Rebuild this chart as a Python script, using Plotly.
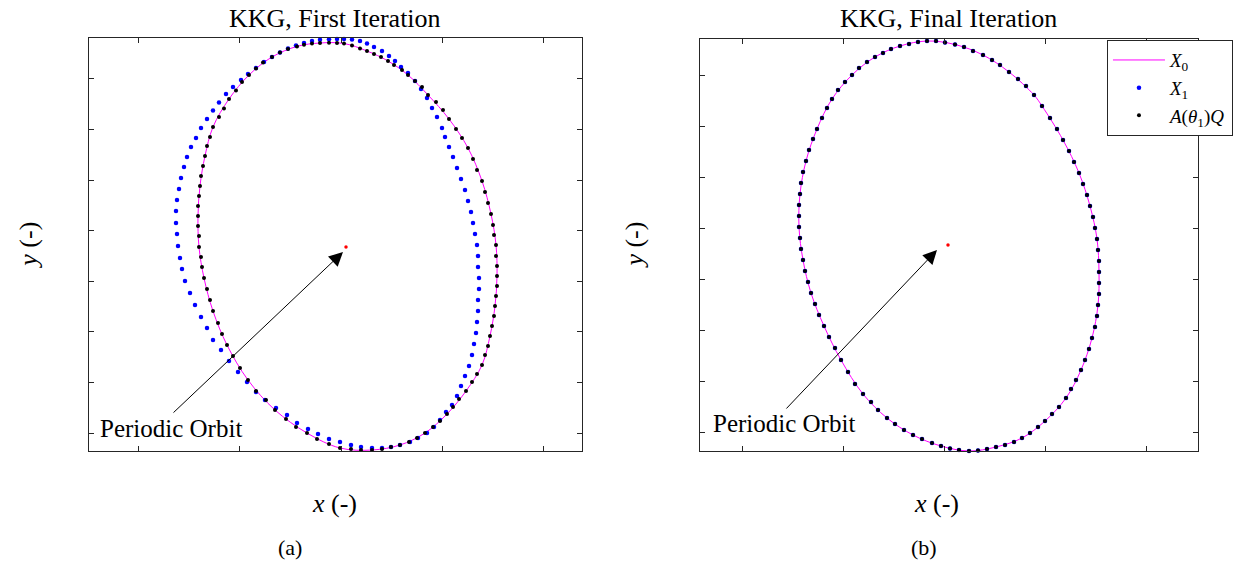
import plotly.graph_objects as go

# ---------------- panel (a): first iteration ----------------
# A(theta_1)Q samples
aq_a_x = [-2, -9, -17, -26, -34, -42, -49, -58, -66, -74, -83, -90, -97, -104, -110, -117, -122, -127,
          -133, -136, -139, -141, -143, -145, -146, -147, -148, -148, -148, -147, -147, -145, -144, -142,
          -139, -136, -133, -128, -124, -119, -113, -106, -98, -90, -80, -71, -60, -50, -39, -29, -17, -6,
          5, 15, 26, 36, 45, 54, 63, 71, 79, 87, 94, 101, 107, 113, 120, 126, 131, 136, 139, 142, 144,
          146, 148, 149, 150, 151, 151, 151, 150, 150, 148, 147, 145, 142, 139, 136, 131, 127, 122, 116,
          110, 103, 97, 90, 82, 76, 69, 62, 56, 48, 42, 35, 28, 21, 14, 6]
aq_a_y = [203.5, 204, 204.3, 204, 203.4, 202.3, 200.6, 198, 194.5, 190, 184.5, 178.5, 172, 165, 156.5, 148,
          138.5, 130, 120, 110, 101, 91, 81, 71, 61, 51, 41, 31, 21, 11, 0, -10, -20, -31, -42, -53, -64,
          -76, -87, -98, -109, -121, -133, -144, -153, -163, -172, -180, -186, -192, -197, -201, -202,
          -203, -203, -202, -200, -198, -195, -191, -186, -180, -174, -167, -160, -152, -144, -135, -127,
          -118, -108, -99, -89, -79, -69, -59, -49, -39, -29, -19, -9, 2, 12, 22, 33, 44, 55, 66, 77, 88,
          99, 109, 118, 128, 137, 145, 152, 160, 166, 172, 177, 182, 186, 190, 193, 196, 198.5, 201.5]

# X_1 samples (first Newton update)
x1_a_x = [14, 6, -2, -9, -17, -26, -34, -42, -50, -58, -66, -74, -82, -90, -98, -105, -113, -120, -127,
          -133, -139, -145, -150, -155, -159, -162, -165, -167, -169, -170, -170, -169, -168, -166, -164,
          -161, -156, -151, -145, -139, -133, -125, -117, -108, -99, -90, -81, -70, -59, -49, -38, -28,
          -17, -6, 5, 15, 26, 36, 45, 54, 64, 72, 81, 88, 94, 100, 106, 111, 115, 119, 123, 126, 128,
          130, 131, 132, 132, 133, 133, 132, 132, 131, 129, 127, 125, 122, 119, 115, 111, 107, 103, 99,
          96, 91, 86, 81, 75, 69, 62, 55, 49, 43, 36, 28, 21]
x1_a_y = [206, 207.5, 208, 208, 207.8, 207.2, 206, 204, 201.5, 198.5, 194.5, 190, 185, 179, 173, 167, 160,
          153, 144.5, 136.5, 128, 119, 109, 100, 90, 80, 69, 58, 47, 36, 24, 13, 1, -11, -22, -34, -46,
          -58, -70, -81, -93, -103, -114, -125, -135, -145, -153, -161, -168, -176, -182, -187, -192, -195,
          -198, -200, -201, -201, -200, -198, -195, -191, -186, -180, -173, -165, -158, -149, -139, -129,
          -119, -108, -97, -86, -75, -64, -53, -42, -31, -20, -9, 2, 13, 24, 35, 46, 57, 68, 79, 90, 100,
          110, 119, 130, 139, 149, 158, 166, 174, 180, 186, 191, 196, 200, 203.5]

# X_0 reference orbit
x0_a_x = [-2, -26, -49, -74, -97, -117, -133, -141, -146, -148, -147, -142, -133, -119, -98, -71, -39, -6,
          26, 54, 79, 101, 120, 136, 144, 149, 151, 150, 145, 136, 122, 103, 82, 62, 42, 21]
x0_a_y = [203.5, 204, 200.6, 190, 172, 148, 120, 91, 61, 31, 0, -31, -64, -98, -133, -163, -186, -201,
          -203, -198, -186, -167, -144, -118, -89, -59, -29, 2, 33, 66, 99, 128, 152, 172, 186, 196]

# ---------------- panel (b): final iteration ----------------
aq_b_x = [86, 78, 70, 61, 52, 44, 35, 25, 16, 7, -3, -12, -21, -30, -39, -48, -57, -65, -73, -81, -89,
          -96, -103, -110, -116, -121, -126, -131, -135, -139, -142, -145, -147, -148, -149, -149, -149,
          -148, -147, -145, -143, -140, -137, -133, -129, -124, -119, -113, -107, -100, -93, -85, -77,
          -70, -61, -53, -44, -35, -26, -16, -7, 2, 11, 21, 30, 39, 48, 57, 66, 74, 82, 90, 97, 104, 111,
          118, 123, 128, 133, 137, 141, 144, 147, 149, 150, 151, 151, 151, 151, 150, 149, 147, 145, 142,
          139, 135, 131, 126, 121, 115, 109, 102, 94]
aq_b_y = [150, 159, 166, 173, 180, 185, 190, 194, 198, 200.5, 202.5, 204, 204, 203, 201, 199, 196, 192,
          188, 183, 177, 170, 163, 155, 146, 137, 127, 116, 106, 95, 84, 73, 62, 51, 40, 29, 18, 7, -4,
          -15, -26, -37, -48, -59, -70, -81, -92, -103, -115, -127, -139, -149, -157, -165, -173, -179,
          -185, -190, -194, -198, -201, -203.5, -205, -206, -205.5, -204, -202, -200, -197, -193, -188,
          -182, -176, -169, -162, -153, -144, -135, -125, -115, -104, -93, -82, -71, -60, -49, -38, -27,
          -16, -5, 6, 17, 28, 39, 50, 61, 72, 83, 94, 105, 116, 127, 139]

# converged: the final X_1 coincides with A(theta_1)Q
x1_b_x = aq_b_x
x1_b_y = aq_b_y

x0_b_x = [86, 61, 35, 7, -21, -48, -73, -96, -116, -131, -142, -148, -149, -145, -137, -124, -107, -85,
          -61, -35, -7, 21, 48, 74, 97, 118, 133, 144, 150, 151, 149, 142, 131, 115, 94]
x0_b_y = [150, 173, 190, 200.5, 204, 199, 188, 170, 146, 116, 84, 51, 18, -15, -48, -81, -115, -149,
          -173, -190, -201, -206, -202, -193, -176, -153, -125, -93, -60, -27, 6, 39, 72, 105, 139]

# fixed point of the map
fixed_pt = (0, 0)

MAGENTA = "#ff00ff"
BLUE = "#0000ff"
AX_COL = "#262626"
SERIF = "Liberation Serif, Times New Roman, serif"


def closed(v):
    return list(v) + [v[0]]


fig = go.Figure()

panels = [
    ("x", "y", x0_a_x, x0_a_y, x1_a_x, x1_a_y, aq_a_x, aq_a_y, False),
    ("x2", "y2", x0_b_x, x0_b_y, x1_b_x, x1_b_y, aq_b_x, aq_b_y, True),
]
for xa, ya, x0x, x0y, x1x, x1y, aqx, aqy, leg in panels:
    fig.add_trace(go.Scatter(
        x=closed(x0x), y=closed(x0y), mode="lines", xaxis=xa, yaxis=ya,
        line=dict(color=MAGENTA, width=1, shape="spline", smoothing=1.0),
        name="<i>X</i><sub>0</sub>", showlegend=leg, cliponaxis=False))
    fig.add_trace(go.Scatter(
        x=x1x, y=x1y, mode="markers", xaxis=xa, yaxis=ya,
        marker=dict(color=BLUE, size=4.5),
        name="<i>X</i><sub>1</sub>", showlegend=leg, cliponaxis=False))
    fig.add_trace(go.Scatter(
        x=aqx, y=aqy, mode="markers", xaxis=xa, yaxis=ya,
        marker=dict(color="black", size=4),
        name="<i>A</i>(<i>θ</i><sub>1</sub>)<i>Q</i>", showlegend=leg, cliponaxis=False))
    fig.add_trace(go.Scatter(
        x=[fixed_pt[0]], y=[fixed_pt[1]], mode="markers", xaxis=xa, yaxis=ya,
        marker=dict(color="red", size=3.5), showlegend=False, cliponaxis=False))

axis_common = dict(showticklabels=False, ticks="inside", ticklen=5, tickwidth=1, tickcolor=AX_COL,
                   showline=True, linecolor=AX_COL, linewidth=1, mirror="allticks",
                   showgrid=False, zeroline=False, fixedrange=True)

fig.update_layout(
    width=1248, height=565,
    margin=dict(l=0, r=0, t=0, b=0),
    paper_bgcolor="white", plot_bgcolor="white",
    xaxis=dict(domain=[0.07131, 0.46635], range=[-257, 236], tick0=-207, dtick=101, anchor="y",
               **axis_common),
    yaxis=dict(domain=[0.20177, 0.93274], range=[-204, 209], tick0=-186, dtick=50.6, anchor="x",
               **axis_common),
    xaxis2=dict(domain=[0.56090, 0.95994], range=[-248, 250], tick0=-206, dtick=101.2, anchor="y2",
                **axis_common),
    yaxis2=dict(domain=[0.20177, 0.93097], range=[-206, 206], tick0=-187, dtick=50.9, anchor="x2",
                **axis_common),
    legend=dict(x=0.887, y=0.929, xanchor="left", yanchor="top",
                bgcolor="white", bordercolor=AX_COL, borderwidth=1,
                font=dict(family=SERIF, size=19, color="black"),
                itemwidth=52, tracegroupgap=0),
    font=dict(family=SERIF, color="black"),
)

ann = []
# panel titles
for xc, txt in [(0.2688, "KKG, First Iteration"), (0.7604, "KKG, Final Iteration")]:
    ann.append(dict(x=xc, y=0.9681, xref="paper", yref="paper", text=txt, showarrow=False,
                    xanchor="center", yanchor="middle", font=dict(family=SERIF, size=26, color="black")))
# axis labels
for xc in (0.2684, 0.7508):
    ann.append(dict(x=xc, y=0.1097, xref="paper", yref="paper", text="<i>x</i> (-)", showarrow=False,
                    xanchor="center", yanchor="middle", font=dict(family=SERIF, size=26, color="black")))
for xc in (0.023, 0.5085):
    ann.append(dict(x=xc, y=0.5664, xref="paper", yref="paper", text="<i>y</i> (-)", showarrow=False,
                    textangle=-90, xanchor="center", yanchor="middle",
                    font=dict(family=SERIF, size=26, color="black")))
# sub-captions
for xc, txt in [(0.2324, "(a)"), (0.7404, "(b)")]:
    ann.append(dict(x=xc, y=0.0301, xref="paper", yref="paper", text=txt, showarrow=False,
                    xanchor="center", yanchor="middle", font=dict(family=SERIF, size=22, color="black")))
# arrows pointing at the periodic orbit
for xa, ya, head, tail, lab in [("x", "y", (-3, -5), (-174, -167), (-175, -181)),
                                ("x2", "y2", (-11, -5), (-163, -165), (-164, -178))]:
    ann.append(dict(x=head[0], y=head[1], ax=tail[0], ay=tail[1], xref=xa, yref=ya,
                    axref=xa, ayref=ya, text="", showarrow=True, arrowhead=2, arrowsize=2.8,
                    arrowwidth=1, arrowcolor="black", standoff=0, startstandoff=0))
    ann.append(dict(x=lab[0], y=lab[1], xref=xa, yref=ya, text="Periodic Orbit", showarrow=False,
                    xanchor="center", yanchor="middle", font=dict(family=SERIF, size=25, color="black")))
fig.update_layout(annotations=ann)

fig.write_html("out.html")
